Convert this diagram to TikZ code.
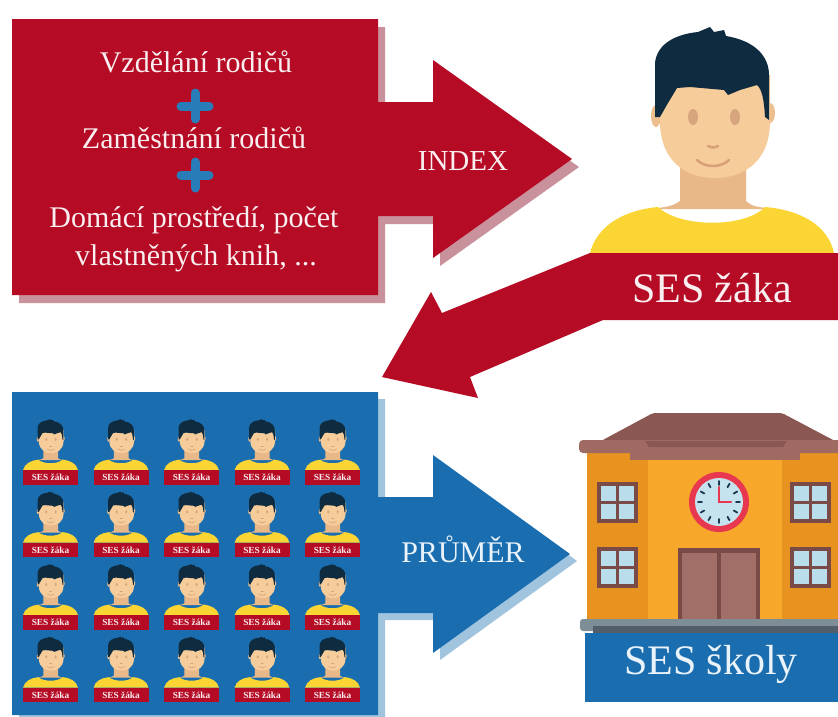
\documentclass[tikz,border=0pt]{standalone}
\usepackage{fontspec}
\setmainfont{Liberation Serif}
\definecolor{sesred}{HTML}{B50B24}
\definecolor{redshadow}{HTML}{C8919B}
\definecolor{sesblue}{HTML}{1A6EB0}
\definecolor{blueshadow}{HTML}{A0C3DE}
\definecolor{plusblue}{HTML}{287DB9}
\definecolor{hairc}{HTML}{0F2B40}
\definecolor{skinc}{HTML}{F6CC9B}
\definecolor{neckc}{HTML}{E9B888}
\definecolor{earc}{HTML}{EDBE8E}
\definecolor{eyec}{HTML}{D6A57E}
\definecolor{shirtc}{HTML}{FBD533}
\definecolor{smilec}{HTML}{D8A078}
\definecolor{roofc}{HTML}{8A5752}
\definecolor{eavec}{HTML}{9E6A62}
\definecolor{wingc}{HTML}{E8931F}
\definecolor{centc}{HTML}{F7A82B}
\definecolor{framec}{HTML}{7A4B46}
\definecolor{panec}{HTML}{B9DDEA}
\definecolor{doorc}{HTML}{A26E68}
\definecolor{clockred}{HTML}{E8384F}
\definecolor{clockface}{HTML}{C4E3EE}
\definecolor{tickc}{HTML}{1E3550}
\definecolor{basec}{HTML}{7E8E96}
\definecolor{based}{HTML}{525E6A}
\definecolor{lighttext}{HTML}{F9EEF0}
\definecolor{bluetext}{HTML}{EAF2FA}
\tikzset{
  smile lw/.store in=\smilelw, smile lw=2.5pt,
  txt/.style={inner sep=0pt, anchor=base, text=lighttext},
  pluslines/.style={plusblue, line width=9pt, line cap=round},
  % a person: origin at the bottom centre of the shirt
  pics/kid/.style={code={
    \fill[earc] (-56,-137) ellipse [x radius=5, y radius=11];
    \fill[earc] (58,-140) ellipse [x radius=5, y radius=10];
    \fill[neckc] (-32,-103) -- (-32,-52) .. controls (-40,-47) .. (-60,-44)
       -- (60,-44) .. controls (40,-47) .. (34,-52) -- (34,-103) -- cycle;
    \fill[skinc] (-52,-178) -- (-52,-128) .. controls (-50,-88) and (-22,-75) .. (3,-75)
       .. controls (28,-75) and (56,-88) .. (58,-128) -- (58,-178) -- cycle;
    \fill[hairc] (-57,-136) -- (-57,-190) .. controls (-55,-210) and (-35,-219) .. (-14,-221)
       -- (-2,-226) -- (2,-221) -- (12,-223) -- (14,-217)
       .. controls (44,-212) and (57,-196) .. (57,-178) -- (57,-133) -- (53,-136)
       .. controls (52,-153) and (50,-164) .. (45,-168) -- (28,-163) -- (16,-158) -- (12,-163)
       -- (-22,-166) -- (-35,-165) -- (-44,-150) -- (-52,-136) -- cycle;
    \fill[eyec] (-19,-136) ellipse [x radius=5, y radius=8];
    \fill[eyec] (23,-136) ellipse [x radius=5, y radius=8];
    \draw[smilec, line width=\smilelw, line cap=round] (-4,-107) .. controls (1,-105) .. (6,-107);
    \draw[smilec, line width=\smilelw, line cap=round] (-15,-93) .. controls (-7,-85) and (9,-85) .. (17,-93);
    \fill[shirtc] (-122,0) .. controls (-115,-28) and (-87,-43) .. (-54,-46)
       .. controls (-32,-25) and (33,-25) .. (53,-46)
       .. controls (88,-43) and (116,-28) .. (122,0) -- cycle;
  }},
  % a window with four panes, origin at its upper left corner
  pics/window/.style={code={
    \fill[framec] (0,0) rectangle (41,41);
    \fill[panec] (4,4) rectangle (19,19);
    \fill[panec] (22,4) rectangle (37,19);
    \fill[panec] (4,22) rectangle (19,37);
    \fill[panec] (22,22) rectangle (37,37);
  }},
}
\begin{document}
\begin{tikzpicture}[x=1pt,y=-1pt]
\useasboundingbox (0,0) rectangle (838,716);
\fill[white] (0,0) rectangle (838,716);

% red box with its arrow, shadow first
\foreach \dx/\dy/\col in {7/8/redshadow,0/0/sesred}
  \fill[\col, shift={(\dx,\dy)}] (12,19) -- (378,19) -- (378,102) -- (433,102) -- (433,60)
     -- (572,159) -- (433,258) -- (433,216) -- (378,216) -- (378,295) -- (12,295) -- cycle;

% blue box with its arrow, shadow first
\foreach \dx/\dy/\col in {7/7/blueshadow,0/0/sesblue}
  \fill[\col, shift={(\dx,\dy)}] (12,392) -- (378,392) -- (378,497) -- (433,497) -- (433,455)
     -- (570,554) -- (433,653) -- (433,613) -- (378,613) -- (378,715) -- (12,715) -- cycle;

% factors of the index
\node[txt, font=\fontsize{30}{32}\selectfont] (f1) at (196,72) {Vzdělání rodičů};
\node[txt, font=\fontsize{30}{32}\selectfont] (f2) at (194,148) {Zaměstnání rodičů};
\node[txt, font=\fontsize{30}{32}\selectfont] (f3) at (194,227) {Domácí prostředí, počet};
\node[txt, font=\fontsize{30}{32}\selectfont] (f4) at (196,265) {vlastněných knih, ...};
\draw[pluslines] (181,106) -- (209,106) (195,93) -- (195,119);
\draw[pluslines] (181,175) -- (209,175) (195,162) -- (195,188);
\node[txt, font=\fontsize{29}{30}\selectfont] (index) at (463,170) {INDEX};

% the pupil
\pic at (712,253) {kid};

% banner turning into the arrow towards the class
\fill[sesred] (838,253) -- (590,253) -- (442,313) -- (431,292) -- (382,377) -- (478,398)
   -- (470,377) -- (603,320) -- (838,320) -- cycle;
\node[txt, font=\fontsize{42}{44}\selectfont] (sesz) at (712,302) {SES žáka};

% the class: 5 x 4 pupils
\foreach \c in {0,...,4}
  \foreach \r in {0,...,3} {
    \pic[scale=0.225, smile lw=0.6pt] at ({50.5+70.5*\c},{470+72.5*\r}) {kid};
    \node[fill=sesred, minimum width=55pt, minimum height=14.5pt, inner sep=0pt, anchor=north,
          text=lighttext, font=\bfseries\fontsize{9.3}{10}\selectfont]
      (lab-\c-\r) at ({50.5+70.5*\c},{470+72.5*\r}) {SES žáka};
  }
\node[txt, text=bluetext, font=\fontsize{30}{32}\selectfont] (prumer) at (463,562) {PRŮMĚR};

% school building
\fill[roofc, rounded corners=2pt] (653,413) -- (782,413) -- (835,441) -- (601,441) -- cycle;
\fill[wingc] (587,453) rectangle (838,623);
\fill[eavec, rounded corners=4pt] (579,440) rectangle (852,453);
\fill[roofc] (645,441) -- (787,441) -- (783,447) -- (649,447) -- cycle;
\fill[eavec] (630,453) rectangle (800,460);
\fill[centc] (648,460) rectangle (782,623);
\pic at (597,482) {window};
\pic at (597,547) {window};
\pic at (790,482) {window};
\pic at (790,547) {window};
% clock
\fill[clockred] (719,502) circle [radius=30];
\fill[clockface] (719,502) circle [radius=24];
\foreach \a in {0,30,...,330}
  \draw[tickc, line width=1.8pt, line cap=round, shift={(719,502)}] (\a:17) -- (\a:21);
\draw[clockred, line width=2.4pt, line cap=round] (719,487) -- (719,502) -- (731,502);
% door
\fill[framec] (678,548) rectangle (760,623);
\fill[doorc] (682,553) rectangle (717,623);
\fill[doorc] (721,553) rectangle (756,623);
% plinth
\fill[basec, rounded corners=3pt] (580,619) rectangle (850,631);
\fill[based] (593,626) rectangle (838,634);
% school label
\fill[sesblue] (585,633) rectangle (838,702);
\node[txt, text=bluetext, font=\fontsize{42}{44}\selectfont] (sess) at (711,674) {SES školy};
\end{tikzpicture}
\end{document}
